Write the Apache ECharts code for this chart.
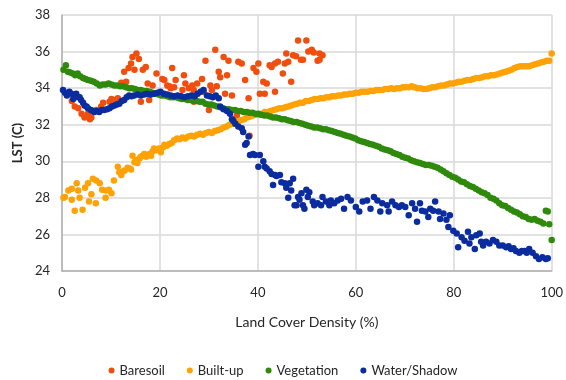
<!DOCTYPE html>
<html>
<head>
<meta charset="utf-8">
<script src="https://cdn.jsdelivr.net/npm/echarts@6/dist/echarts.min.js"></script>
<style>html,body{margin:0;padding:0;background:#fff;}#c{width:566px;height:380px;}</style>
</head>
<body>
<div id="c"></div>
<script>
const seriesNames = ['Baresoil', 'Built-up', 'Vegetation', 'Water/Shadow'];
const xTicks = [0, 20, 40, 60, 80, 100];
const yTicks = [24, 26, 28, 30, 32, 34, 36, 38];

const baresoil = [[2.0,33.3],[2.6,33.0],[3.3,32.9],[4.0,32.6],[4.6,32.4],[5.3,32.6],[5.7,32.3],[6.0,32.4],[7.0,32.8],[8.0,33.0],[8.4,33.2],[9.7,33.25],[10.1,33.4],[10.8,33.35],[11.4,33.45],[12.1,34.3],[12.7,34.9],[13.1,34.35],[13.6,35.1],[14.1,35.35],[14.4,35.7],[14.8,35.0],[15.2,35.9],[15.7,35.6],[16.1,33.25],[16.5,35.0],[17.1,35.15],[17.5,34.25],[17.8,33.35],[18.5,34.15],[19.3,34.8],[20.5,34.5],[20.9,34.45],[21.5,34.15],[21.9,34.1],[22.2,34.0],[22.5,35.1],[22.9,34.05],[23.2,34.45],[24.6,33.9],[24.9,34.7],[25.2,34.25],[25.9,34.0],[26.6,34.15],[26.9,33.9],[26.9,33.25],[27.6,34.25],[28.6,34.5],[28.9,33.8],[29.3,35.5],[30.0,32.8],[30.3,34.15],[30.6,33.9],[31.3,36.1],[31.6,34.1],[32.0,34.9],[32.3,34.6],[33.0,35.7],[33.3,33.7],[33.7,34.7],[34.0,35.5],[34.7,33.6],[35.5,32.3],[35.7,32.5],[36.0,35.45],[36.7,35.35],[37.4,34.45],[38.1,33.45],[38.3,31.4],[39.1,35.1],[39.7,34.9],[40.1,35.35],[40.4,33.7],[41.1,34.35],[41.4,33.7],[41.8,34.25],[42.4,35.25],[42.8,35.15],[43.5,35.35],[43.5,33.8],[44.1,35.45],[45.1,34.8],[45.5,35.35],[45.8,35.9],[46.2,35.45],[46.8,34.35],[47.2,35.8],[47.8,35.75],[48.2,36.6],[48.8,35.55],[49.2,35.55],[49.9,36.6],[50.3,36.0],[51.0,36.1],[51.4,35.95],[52.2,35.5],[52.6,35.9],[52.6,35.55],[53.2,35.8]];

const builtUp = [[0.3,28.0],[0.6,28.05],[1.3,28.4],[2.0,28.5],[2.0,27.9],[2.6,27.3],[3.0,28.8],[3.3,28.4],[3.6,28.0],[4.2,27.35],[4.7,28.55],[5.3,28.8],[5.5,27.8],[6.0,28.2],[6.3,29.05],[6.9,27.7],[7.0,28.95],[7.7,28.8],[8.2,28.45],[8.9,28.0],[9.0,28.4],[9.6,28.45],[10.1,28.25],[10.6,28.95],[11.4,29.7],[11.7,29.4],[12.1,29.25],[12.5,29.45],[12.8,29.5],[13.4,29.65],[13.8,29.6],[14.1,29.55],[14.4,30.3],[14.8,29.95],[15.1,30.05],[15.4,29.9],[15.8,30.15],[16.1,30.25],[16.5,30.3],[16.8,30.4],[17.2,30.25],[17.5,30.35],[17.9,30.4],[18.2,30.3],[18.5,30.55],[18.8,30.7],[19.3,30.6],[19.8,30.7],[20.2,30.5],[20.6,30.75],[20.9,30.9],[21.4,30.85],[21.9,30.95],[22.4,31.0],[22.9,31.15],[23.5,31.25],[24.0,31.2],[24.6,31.3],[25.2,31.25],[25.8,31.35],[26.4,31.4],[27.0,31.35],[27.6,31.45],[28.2,31.5],[28.8,31.45],[29.4,31.55],[30.0,31.6],[30.6,31.55],[31.2,31.65],[31.8,31.7],[32.4,31.75],[33.0,31.85],[33.6,31.9],[34.2,32.0],[34.8,32.05],[35.4,32.15],[36.0,32.2],[36.6,32.25],[37.2,32.3],[37.8,32.4],[38.4,32.45],[39.0,32.5],[39.6,32.55],[40.2,32.55],[40.8,32.6],[41.4,32.7],[42.0,32.7],[42.6,32.75],[43.2,32.8],[43.8,32.85],[44.4,32.9],[45.0,32.9],[45.6,32.95],[46.2,33.0],[46.8,33.05],[47.4,33.1],[48.0,33.15],[48.6,33.2],[49.2,33.2],[49.8,33.3],[50.4,33.3],[51.0,33.35],[51.6,33.4],[52.2,33.4],[52.8,33.45],[53.4,33.45],[54.0,33.5],[54.6,33.5],[55.2,33.55],[55.8,33.55],[56.4,33.6],[57.0,33.6],[57.6,33.65],[58.2,33.65],[58.8,33.7],[59.4,33.7],[60.0,33.75],[60.6,33.75],[61.2,33.8],[61.8,33.8],[62.4,33.8],[63.0,33.85],[63.6,33.85],[64.2,33.9],[64.8,33.9],[65.4,33.9],[66.0,33.95],[66.6,33.95],[67.2,34.0],[67.8,33.95],[68.4,34.0],[69.0,34.0],[69.6,34.05],[70.2,34.05],[70.8,34.05],[71.4,34.1],[72.0,34.05],[72.6,34.0],[73.2,34.0],[73.8,33.95],[74.4,33.95],[75.0,34.0],[75.6,34.05],[76.2,34.05],[76.8,34.1],[77.4,34.15],[78.0,34.15],[78.6,34.2],[79.2,34.25],[79.8,34.25],[80.4,34.3],[81.0,34.35],[81.6,34.35],[82.2,34.4],[82.8,34.45],[83.4,34.45],[84.0,34.5],[84.6,34.55],[85.2,34.55],[85.8,34.6],[86.4,34.65],[87.0,34.65],[87.6,34.7],[88.2,34.7],[88.8,34.75],[89.4,34.8],[90.0,34.85],[90.6,34.9],[91.2,34.95],[91.8,35.0],[92.4,35.1],[93.0,35.15],[93.6,35.2],[94.2,35.2],[94.8,35.2],[95.4,35.2],[96.0,35.25],[96.6,35.3],[97.2,35.35],[97.8,35.4],[98.4,35.45],[99.0,35.5],[99.5,35.5],[100,35.9]];

const vegetation = [[0.3,35.0],[0.8,35.25],[1.2,34.9],[1.7,34.85],[2.2,34.8],[2.7,34.7],[3.2,34.8],[3.7,34.65],[4.3,34.55],[4.8,34.5],[5.3,34.45],[5.9,34.4],[6.5,34.35],[7.1,34.25],[7.7,34.15],[8.3,34.2],[8.9,34.2],[9.5,34.25],[10.1,34.2],[10.7,34.15],[11.3,34.15],[11.9,34.1],[12.5,34.1],[13.1,34.05],[13.7,34.0],[14.3,34.0],[14.9,33.95],[15.5,33.9],[16.1,33.9],[16.7,33.85],[17.3,33.85],[17.9,33.8],[18.5,33.75],[19.1,33.7],[19.7,33.65],[20.3,33.6],[20.9,33.6],[21.5,33.55],[22.1,33.5],[22.7,33.5],[23.3,33.5],[23.9,33.45],[24.5,33.4],[25.1,33.4],[25.7,33.35],[26.3,33.35],[26.9,33.3],[27.5,33.3],[28.1,33.25],[28.7,33.25],[29.3,33.15],[29.9,33.1],[30.5,33.1],[31.1,33.05],[31.7,33.0],[32.3,32.95],[32.9,32.9],[33.5,32.85],[34.1,32.85],[34.7,32.8],[35.3,32.8],[35.9,32.75],[36.5,32.75],[37.1,32.7],[37.7,32.7],[38.3,32.65],[38.9,32.65],[39.5,32.6],[40.1,32.6],[40.7,32.55],[41.3,32.5],[41.9,32.5],[42.5,32.45],[43.1,32.4],[43.7,32.4],[44.3,32.35],[44.9,32.3],[45.5,32.3],[46.1,32.25],[46.7,32.2],[47.3,32.15],[47.9,32.15],[48.5,32.1],[49.1,32.05],[49.7,32.0],[50.3,31.95],[50.9,31.9],[51.5,31.85],[52.1,31.85],[52.7,31.8],[53.3,31.75],[53.9,31.75],[54.5,31.7],[55.1,31.65],[55.7,31.6],[56.3,31.55],[56.9,31.5],[57.5,31.45],[58.1,31.4],[58.7,31.35],[59.3,31.3],[59.9,31.25],[60.5,31.15],[61.1,31.1],[61.7,31.05],[62.3,31.0],[62.9,30.95],[63.5,30.9],[64.1,30.85],[64.7,30.8],[65.3,30.7],[65.9,30.65],[66.5,30.6],[67.1,30.55],[67.7,30.45],[68.3,30.4],[68.9,30.35],[69.5,30.25],[70.1,30.2],[70.7,30.15],[71.3,30.05],[71.9,30.0],[72.5,29.95],[73.1,29.9],[73.7,29.85],[74.3,29.8],[74.9,29.8],[75.5,29.75],[76.1,29.7],[76.7,29.65],[77.3,29.55],[77.9,29.45],[78.5,29.35],[79.1,29.25],[79.7,29.15],[80.3,29.1],[80.9,29.0],[81.5,28.9],[82.1,28.85],[82.7,28.75],[83.3,28.65],[83.9,28.6],[84.5,28.5],[85.1,28.4],[85.7,28.3],[86.3,28.25],[86.9,28.15],[87.5,28.0],[88.1,27.95],[88.7,27.85],[89.3,27.7],[89.9,27.6],[90.5,27.55],[91.1,27.45],[91.7,27.35],[92.3,27.25],[92.9,27.2],[93.5,27.1],[94.1,27.0],[94.7,26.95],[95.3,26.85],[95.9,26.8],[96.5,26.85],[97.1,26.75],[97.7,26.7],[98.3,26.6],[98.8,27.3],[99.2,27.25],[99.5,26.55],[100,25.7]];

const water = [[0.2,33.9],[0.6,33.75],[1.0,33.6],[1.5,33.8],[1.9,33.7],[2.3,33.4],[2.9,33.7],[3.3,33.5],[3.6,33.5],[3.9,33.35],[4.3,33.2],[4.6,33.05],[5.0,33.0],[5.3,32.9],[5.9,32.8],[6.3,32.75],[6.6,32.7],[7.1,32.75],[7.6,32.7],[8.1,32.8],[8.6,32.8],[9.2,32.85],[9.7,32.9],[10.2,33.0],[10.7,33.05],[11.2,33.1],[11.7,33.15],[12.2,33.3],[12.7,33.35],[13.2,33.5],[13.7,33.6],[14.2,33.55],[14.7,33.6],[15.4,33.65],[16.1,33.6],[16.8,33.65],[17.4,33.7],[18.1,33.65],[18.8,33.7],[19.5,33.75],[20.1,33.8],[20.8,33.7],[21.5,33.65],[22.2,33.6],[22.9,33.55],[23.6,33.6],[24.3,33.55],[25.0,33.5],[25.7,33.55],[26.4,33.6],[27.1,33.55],[27.7,33.7],[28.3,33.8],[28.9,33.9],[29.6,33.6],[30.2,33.55],[30.8,33.5],[31.4,33.6],[32.0,33.45],[32.3,33.0],[33.0,32.85],[33.7,32.75],[34.3,32.6],[34.7,32.3],[35.0,32.2],[35.4,32.05],[36.0,31.9],[36.7,31.8],[37.0,31.6],[37.4,30.9],[37.7,31.0],[38.1,31.35],[38.4,30.35],[39.0,30.4],[39.4,30.35],[40.1,29.7],[40.4,30.35],[41.1,30.0],[41.4,29.7],[41.8,29.6],[42.4,29.45],[42.8,29.3],[43.1,28.7],[43.5,29.25],[43.8,29.2],[44.5,29.25],[44.8,28.85],[45.5,28.8],[45.8,28.55],[46.2,28.0],[46.5,28.8],[46.8,28.4],[47.2,29.05],[47.5,27.6],[47.9,27.6],[48.2,28.05],[48.5,27.9],[48.9,28.25],[49.2,27.6],[49.5,27.4],[49.9,28.45],[50.2,28.05],[50.5,28.3],[51.2,27.8],[51.5,27.6],[52.2,27.7],[52.9,27.6],[53.2,28.05],[53.9,27.8],[54.6,27.6],[54.9,27.85],[55.6,27.7],[56.3,27.85],[57.0,27.95],[57.6,27.4],[58.3,28.05],[59.0,27.85],[60.0,27.5],[60.7,27.25],[61.4,27.8],[62.3,27.85],[63.0,27.4],[63.7,28.05],[64.4,27.85],[65.0,27.25],[65.4,27.7],[66.4,27.6],[66.7,27.25],[67.4,27.8],[68.1,27.6],[68.8,27.5],[69.4,27.6],[70.1,27.5],[70.8,27.05],[71.5,27.7],[72.1,27.4],[72.5,26.7],[73.1,27.7],[73.5,27.3],[74.2,27.25],[74.8,26.95],[75.2,27.4],[75.8,27.3],[76.2,27.8],[76.9,27.25],[77.2,26.85],[77.9,27.15],[78.5,26.8],[78.9,26.4],[79.2,27.05],[79.9,26.2],[80.6,26.05],[80.9,25.3],[81.6,25.85],[82.2,25.65],[82.9,26.15],[83.2,25.5],[83.6,25.85],[84.3,25.2],[84.6,25.95],[85.3,26.05],[85.6,25.6],[86.0,25.4],[86.6,25.6],[87.3,25.5],[88.0,25.7],[88.7,25.6],[89.3,25.4],[90.0,25.4],[90.7,25.3],[91.2,25.35],[91.7,25.2],[92.2,25.25],[92.7,25.1],[93.4,25.0],[93.9,25.1],[94.4,25.1],[94.9,25.0],[95.4,25.2],[96.1,25.0],[96.8,24.8],[97.4,24.65],[98.1,24.75],[98.8,24.65],[99.2,24.7]];

const colors = ['#f04e0e', '#ffa205', '#2f8a0c', '#0b2c9e'];
const FONT = 'Lato';

const chart = echarts.init(document.getElementById('c'), null, {renderer: 'canvas'});
const datasets = [baresoil, builtUp, vegetation, water];
chart.setOption({
  animation: false,
  color: colors,
  grid: {left: 62, right: 10, top: 15, bottom: 109},
  legend: {
    data: seriesNames,
    top: 359,
    left: 'center',
    icon: 'circle',
    itemWidth: 6,
    itemHeight: 6,
    itemGap: 22,
    textStyle: {fontFamily: FONT, fontSize: 13, color: '#262626'}
  },
  xAxis: {
    type: 'value',
    min: xTicks[0],
    max: xTicks[xTicks.length - 1],
    interval: 20,
    name: 'Land Cover Density (%)',
    nameLocation: 'middle',
    nameGap: 44,
    nameTextStyle: {fontFamily: FONT, fontSize: 14, color: '#262626'},
    axisLine: {show: true, lineStyle: {color: '#b0b0b0', width: 1.5}},
    axisTick: {show: false},
    axisLabel: {margin: 15, fontFamily: FONT, fontSize: 13, color: '#262626'},
    splitLine: {show: true, lineStyle: {color: '#d9d9d9', width: 1.5}}
  },
  yAxis: {
    type: 'value',
    min: yTicks[0],
    max: yTicks[yTicks.length - 1],
    interval: 2,
    name: 'LST (C)',
    nameLocation: 'middle',
    nameGap: 33,
    nameRotate: 90,
    nameTextStyle: {fontFamily: FONT, fontSize: 13, fontWeight: 'bold', color: '#262626'},
    axisLine: {show: true, lineStyle: {color: '#b0b0b0', width: 1.5}},
    axisTick: {show: false},
    axisLabel: {margin: 12, fontFamily: FONT, fontSize: 13, color: '#262626'},
    splitLine: {show: true, lineStyle: {color: '#d9d9d9', width: 1.5}}
  },
  series: seriesNames.map((n, i) => ({
    name: n,
    type: 'scatter',
    symbol: 'circle',
    symbolSize: 6.5,
    data: datasets[i],
    itemStyle: {color: colors[i], opacity: 1}
  }))
});
</script>
</body>
</html>
